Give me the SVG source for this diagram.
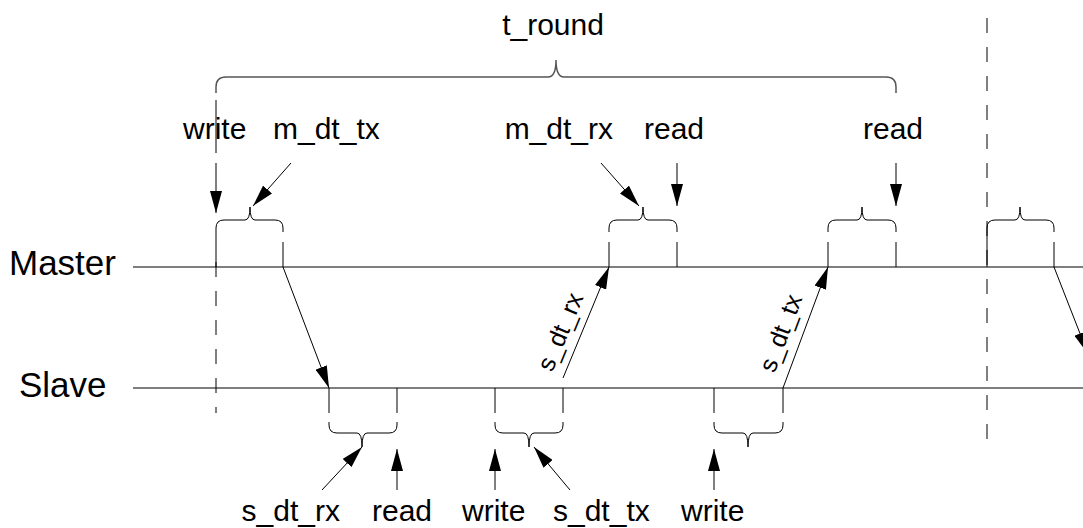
<svg xmlns="http://www.w3.org/2000/svg" width="1083" height="528" viewBox="0 0 1083 528">
<style>
text{font-family:"Liberation Sans",Arial,sans-serif;fill:#000}
.lbl{font-size:30px}
.big{font-size:35px}
.rot{font-size:25px}
.ln{stroke:#000;stroke-width:1;fill:none}
.axis{stroke:#555;stroke-width:1.5;fill:none}
.dash{stroke:#000;stroke-width:1;fill:none;stroke-dasharray:15 14}
.arr{stroke:#000;stroke-width:1;fill:none;marker-end:url(#ah)}
</style>
<defs>
<marker id="ah" viewBox="0 0 22 12" refX="22" refY="6" markerWidth="22" markerHeight="12" markerUnits="userSpaceOnUse" orient="auto">
<path d="M0,0 L22,6 L0,12 z" fill="#000"/>
</marker>
</defs>
<g id="timelines">
<line class="axis" x1="133" y1="267" x2="1083" y2="267"/>
<line class="axis" x1="133" y1="388" x2="1083" y2="388"/>
<text class="big" x="9" y="275">Master</text>
<text class="big" x="19" y="397">Slave</text>
</g>
<g id="round-markers">
<line class="ln" x1="216" y1="100" x2="216" y2="153"/>
<line class="ln" x1="216" y1="232" x2="216" y2="267"/>
<line class="dash" x1="216" y1="262" x2="216" y2="413"/>
<line class="dash" x1="987" y1="18" x2="987" y2="441"/>
</g>
<g id="t-round">
<path class="axis" d="M216,93 L216,87 Q216,77 226,77 L548,77 Q556,77 556,60 Q556,77 564,77 L886,77 Q896,77 896,87 L896,93"/>
<text class="lbl" x="553" y="35" text-anchor="middle">t_round</text>
</g>
<g id="master-braces">
<path class="ln" d="M216,232 L216,228 Q216,220 224,220 L245,220 Q250,220 250,207 Q250,220 255,220 L275,220 Q283,220 283,228 L283,232"/>
<line class="ln" x1="283" y1="242" x2="283" y2="267"/>
<path class="ln" d="M609,232 L609,228 Q609,220 617,220 L638,220 Q643,220 643,207 Q643,220 648,220 L669,220 Q677,220 677,228 L677,232"/>
<line class="ln" x1="609" y1="242" x2="609" y2="267"/>
<line class="ln" x1="677" y1="242" x2="677" y2="267"/>
<path class="ln" d="M828,232 L828,228 Q828,220 836,220 L857,220 Q862,220 862,207 Q862,220 867,220 L888,220 Q896,220 896,228 L896,232"/>
<line class="ln" x1="828" y1="242" x2="828" y2="267"/>
<line class="ln" x1="896" y1="242" x2="896" y2="267"/>
<path class="ln" d="M987,232 L987,228 Q987,220 995,220 L1015,220 Q1020,220 1020,207 Q1020,220 1025,220 L1046,220 Q1054,220 1054,228 L1054,232"/>
<line class="ln" x1="987" y1="232" x2="987" y2="267"/>
<line class="ln" x1="1054" y1="242" x2="1054" y2="267"/>
</g>
<g id="slave-braces">
<line class="ln" x1="329" y1="388" x2="329" y2="413"/>
<line class="ln" x1="397" y1="388" x2="397" y2="413"/>
<path class="ln" d="M329,422 L329,425 Q329,433 337,433 L357,433 Q362,433 362,447 Q362,433 367,433 L389,433 Q397,433 397,425 L397,422"/>
<line class="ln" x1="495" y1="388" x2="495" y2="413"/>
<line class="ln" x1="563" y1="388" x2="563" y2="413"/>
<path class="ln" d="M495,422 L495,425 Q495,433 503,433 L524,433 Q529,433 529,447 Q529,433 534,433 L555,433 Q563,433 563,425 L563,422"/>
<line class="ln" x1="714" y1="388" x2="714" y2="413"/>
<line class="ln" x1="783" y1="388" x2="783" y2="413"/>
<path class="ln" d="M714,422 L714,425 Q714,433 722,433 L743,433 Q748,433 748,447 Q748,433 753,433 L775,433 Q783,433 783,425 L783,422"/>
</g>
<g id="top-labels">
<text class="lbl" x="183" y="139">write</text>
<text class="lbl" x="273" y="139">m_dt_tx</text>
<text class="lbl" x="613" y="139" text-anchor="end">m_dt_rx</text>
<text class="lbl" x="644" y="139">read</text>
<text class="lbl" x="863" y="139">read</text>
</g>
<g id="bottom-labels">
<text class="lbl" x="340" y="521" text-anchor="end">s_dt_rx</text>
<text class="lbl" x="372" y="521">read</text>
<text class="lbl" x="462" y="521">write</text>
<text class="lbl" x="553" y="521">s_dt_tx</text>
<text class="lbl" x="681" y="521">write</text>
</g>
<g id="connectors">
<line class="arr" x1="216" y1="163" x2="216" y2="213"/>
<line class="arr" x1="291" y1="163" x2="253" y2="206"/>
<line class="arr" x1="601" y1="163" x2="639" y2="206"/>
<line class="arr" x1="677" y1="163" x2="677" y2="206"/>
<line class="arr" x1="896" y1="163" x2="896" y2="206"/>
<line class="arr" x1="322" y1="490" x2="362" y2="447"/>
<line class="arr" x1="397" y1="490" x2="397" y2="449"/>
<line class="arr" x1="495" y1="490" x2="495" y2="449"/>
<line class="arr" x1="570" y1="490" x2="534" y2="447"/>
<line class="arr" x1="714" y1="490" x2="714" y2="449"/>
<line class="arr" x1="283" y1="267" x2="329" y2="388"/>
<line class="arr" x1="563" y1="378" x2="609" y2="267"/>
<line class="arr" x1="783" y1="388" x2="828" y2="267"/>
<line class="arr" x1="1054" y1="267" x2="1088" y2="354"/>
</g>
<g id="slant-labels">
<text class="rot" transform="translate(568,335) rotate(-67.5)" text-anchor="middle">s_dt_rx</text>
<text class="rot" transform="translate(788.5,336) rotate(-69.6)" text-anchor="middle">s_dt_tx</text>
</g>
</svg>
